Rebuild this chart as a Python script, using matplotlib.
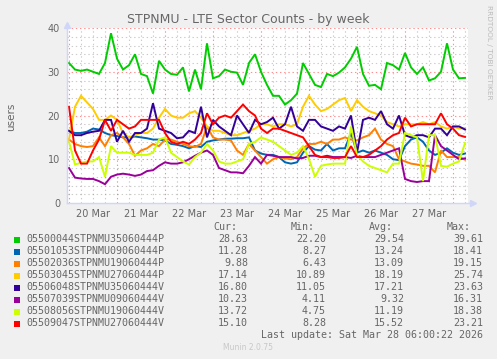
import matplotlib
matplotlib.use("Agg")
import matplotlib.pyplot as plt
from matplotlib.patches import Rectangle

plt.rcParams['lines.scale_dashes'] = False

W, H = 497, 359

# ---------------- data ----------------
hours = list(range(0, 199, 3))  # hours since 20 Mar 00:00, 3-hour steps
day_ticks = [12, 36, 60, 84, 108, 132, 156, 180]
day_labels = ["20 Mar", "21 Mar", "22 Mar", "23 Mar", "24 Mar", "25 Mar", "26 Mar", "27 Mar"]

names = ["05500044STPNMU35060444P", "05501053STPNMU09060444P", "05502036STPNMU19060444P",
         "05503045STPNMU27060444P", "05506048STPNMU35060444V", "05507039STPNMU09060444V",
         "05508056STPNMU19060444V", "05509047STPNMU27060444V"]
colors = ["#00CC00", "#0066B3", "#FF8000", "#FFCC00", "#330099", "#990099", "#CCFF00", "#FF0000"]
cur = ["28.63", "11.28", "9.88", "17.14", "16.80", "10.23", "13.72", "15.10"]
mins = ["22.20", "8.27", "6.43", "10.89", "11.05", "4.11", "4.75", "8.28"]
avgs = ["29.54", "13.24", "13.09", "18.19", "17.21", "9.32", "11.19", "15.52"]
maxs = ["39.61", "18.41", "19.15", "25.74", "23.63", "16.31", "18.38", "23.21"]

s_green = [32, 30.5, 30.2, 30.5, 30.0, 29.5, 32.0, 38.8, 33, 30.5,
           31.5, 34.0, 29.5, 29, 25, 32.5, 30.5, 29.5, 29.3, 31,
           25.5, 30.5, 26, 36.5, 28.5, 29, 30.5, 30, 29.8, 27,
           32, 34, 30, 27, 24.5, 24.5, 22.5, 23.5, 25, 32,
           29.5, 27, 26.5, 29.5, 29, 29.8, 31, 33, 35.7, 29.5,
           26.8, 27, 26, 32, 31.5, 30.5, 34.3, 31, 29.5, 31,
           28, 28.5, 30, 36.5, 30.5, 28.5, 28.6]
s_blue = [16.5, 16, 16, 16.3, 17, 16.8, 16, 15.5, 15.3, 15,
          15, 15.2, 15, 14.8, 14.5, 14.5, 14.3, 13.5, 13.3, 13,
          12.5, 13, 12.8, 14, 14.3, 14.5, 14.7, 14.7, 14.8, 14.8,
          15, 12, 11.3, 11, 11, 10.5, 9.3, 9, 9.3, 11.5,
          13, 12.2, 12, 13.5, 12, 12.5, 12.5, 16, 11.5, 12,
          11.5, 12, 11.5, 11, 10, 9.8, 13, 14.5, 15, 14,
          12, 11, 11.5, 12.5, 11.5, 11, 11.3]
s_orange = [14.5, 13.5, 13, 12.8, 13, 15, 13, 15.5, 16, 15,
            13.5, 10.8, 12, 12.5, 13.5, 13, 14.5, 14.5, 14, 13.5,
            13, 12.8, 13.5, 17.5, 15, 14.5, 14.5, 14.3, 12, 11,
            13.5, 12, 10.5, 9, 10, 10.5, 10.2, 10, 10.5, 12.5,
            13.5, 13.5, 14, 13.5, 14.5, 14.5, 15, 14.5, 14.3, 15,
            15.5, 17, 14.5, 13.5, 13, 10, 9.5, 9, 8.8, 8.5,
            8.5, 7, 12, 10.5, 10.5, 10.5, 9.9]
s_yellow = [14.5, 22, 24.5, 23, 21.5, 19, 19, 20, 19, 16,
            15, 15.5, 16, 16, 17, 19.5, 21.5, 20, 19.5, 19.5,
            20.5, 21, 19.5, 17.5, 16.5, 16.5, 16, 15.5, 15.5, 16,
            16.5, 17, 18, 18, 17.5, 18, 18, 17.5, 18, 22,
            24.5, 22.5, 21, 21.5, 22.5, 23.5, 24, 21, 23.5, 22,
            21, 20.5, 20, 18.5, 18, 17.5, 18, 18, 18, 18.5,
            18, 18.5, 17.5, 17, 17.5, 17, 17.1]
s_indigo = [16.5, 15.5, 15.5, 16, 16.3, 16.5, 19, 19, 14, 16.5,
            14, 16, 16, 17, 22.8, 17, 16.5, 16, 14.8, 15,
            16.5, 16, 22, 15, 19, 17.5, 16.5, 15.5, 20, 18,
            16, 19, 18, 18.5, 19.5, 17, 18, 22, 17.5, 16.5,
            19, 19, 17.5, 17, 16.5, 17.5, 17, 20, 11.5, 19,
            19.5, 19, 21, 18, 17, 20, 15.5, 15, 15.5, 15.5,
            15, 17, 17, 15.5, 17.5, 17.5, 16.8]
s_magenta = [8, 5.8, 5.6, 5.5, 5.5, 5, 4.3, 6, 6.5, 6.7,
             6.5, 6.2, 6.5, 7.3, 7.5, 8.5, 9.3, 9, 9, 9.3,
             10, 10.8, 11.5, 12, 11, 8, 7.5, 7, 7, 6.8,
             8.5, 10.5, 9, 11, 10.8, 10.5, 10.5, 10.5, 10.2, 10.3,
             10.8, 10.8, 10.5, 10.8, 10.5, 10.5, 10.5, 10.3, 10.8, 10.5,
             10.5, 10.5, 11, 11.5, 12, 12.5, 5.5, 5, 4.8, 5,
             5, 15.5, 13, 12, 11, 10, 10.2]
s_lime = [14, 8.8, 9.2, 9.5, 9.5, 10.5, 6, 13, 11.5, 11.5,
          11.5, 11, 11, 11, 11.5, 14.5, 15, 11.5, 10.5, 9.5,
          8.8, 10.5, 11.5, 13.5, 12, 9.5, 9, 9, 9.5, 10,
          13.5, 14, 15, 14.5, 14, 13, 12, 11, 11.5, 13,
          10, 6, 8.5, 8.8, 9, 9, 9, 17.5, 11, 9.5,
          8.5, 8, 7.5, 7, 9, 9, 16, 15.5, 15, 5,
          15.5, 15.5, 8.5, 8.3, 9, 9.5, 13.7]
s_red = [22, 12, 9, 9, 12, 14.5, 19, 16.5, 19, 18,
         17, 17.5, 19, 19, 19, 19, 16, 14, 13.5, 14,
         13.5, 14.5, 16, 20.5, 18, 19.5, 20, 19.5, 21, 22.5,
         21, 20, 17, 16, 17, 17, 16.5, 16, 15.5, 15,
         13, 11, 10.5, 10.5, 10.3, 10.3, 10.5, 13, 10.5, 10.5,
         11, 12, 13, 14.5, 15.5, 16, 19.5, 17.5, 18, 18,
         18, 18, 20.5, 18, 17, 15.5, 15.1]
series = [s_green, s_blue, s_orange, s_yellow, s_indigo, s_magenta, s_lime, s_red]

# ---------------- figure ----------------
FONT = "#666666"
AXISC = "#CFD6F8"
fig = plt.figure(figsize=(W / 100, H / 100), dpi=100, facecolor="#F0F0F0")


def fx(x):
    return x / W


def fy(y):
    return 1 - y / H


L, R, T, B = 67, 468, 28, 203
ax = fig.add_axes([fx(L), fy(B), (R - L) / W, (B - T) / H])
ax.set_facecolor("white")
ax.set_xlim(-1, 199.5)
ax.set_ylim(0, 40)
for s in ax.spines.values():
    s.set_visible(False)

minor_c = (0.55, 0.55, 0.55, 0.45)
major_c = (1.0, 0.2, 0.2, 0.55)
dots = (0, (1, 2))
for v in range(2, 40, 2):
    if v % 10:
        ax.axhline(v, color=minor_c, lw=0.8, ls=dots, zorder=1)
for h in range(-0, 200, 6):
    if h % 24:
        ax.axvline(h, color=minor_c, lw=0.8, ls=dots, zorder=1)
for v in range(10, 41, 10):
    ax.axhline(v, color=major_c, lw=0.8, ls=dots, zorder=1.5)
for h in range(0, 200, 24):
    ax.axvline(h, color=major_c, lw=0.8, ls=dots, zorder=1.5)

for vals, c in zip(series, colors):
    ax.plot(hours, vals, color=c, lw=1.4, solid_joinstyle="miter", zorder=3)

# axis lines with arrows
ax.plot([0, 1.012], [0, 0], transform=ax.transAxes, color=AXISC, lw=1, clip_on=False, zorder=4)
ax.plot([0, 0], [0, 1.0], transform=ax.transAxes, color=AXISC, lw=1, clip_on=False, zorder=4)
ax.plot([1.012], [0], transform=ax.transAxes, marker=">", ms=4.5, color=AXISC, clip_on=False, zorder=4)
ax.plot([0], [1.02], transform=ax.transAxes, marker="^", ms=4.5, color=AXISC, clip_on=False, zorder=4)

ax.set_xticks(day_ticks)
ax.set_xticklabels(day_labels)
ax.set_yticks([0, 10, 20, 30, 40])
ax.tick_params(axis="both", length=0, labelsize=7, labelcolor=FONT)
ax.tick_params(axis="x", pad=4.5)
ax.tick_params(axis="y", pad=5)

fig.text(0.5, fy(19), "STPNMU - LTE Sector Counts - by week", ha="center", va="center",
         fontsize=9, color=FONT)
fig.text(fx(11), fy(117), "users", rotation=90, ha="center", va="center", fontsize=7.5, color=FONT)
fig.text(fx(489), fy(5), "RRDTOOL / TOBI OETIKER", rotation=270, ha="center", va="top",
         fontsize=5.3, color="#BBBBBB")

mono = "DejaVu Sans Mono"
MS = 7.2
hy = 227.5
for lab, x in zip(["Cur:", "Min:", "Avg:", "Max:"], [213, 291, 369, 447]):
    fig.text(fx(x), fy(hy), lab, ha="left", va="center", family=mono, fontsize=MS, color=FONT)
for i in range(len(names)):
    y = 239.5 + 12 * i
    fig.patches.append(Rectangle((fx(14), fy(y + 3)), 6 / W, 6 / H, transform=fig.transFigure,
                                 facecolor=colors[i], edgecolor="none"))
    fig.text(fx(26), fy(y), names[i], ha="left", va="center", family=mono, fontsize=MS, color=FONT)
    for val, x in zip([cur[i], mins[i], avgs[i], maxs[i]], [248, 326, 404, 483]):
        fig.text(fx(x), fy(y), val, ha="right", va="center", family=mono, fontsize=MS, color=FONT)

fig.text(fx(483), fy(335.5), "Last update: Sat Mar 28 06:00:22 2026", ha="right", va="center",
         family=mono, fontsize=MS, color=FONT)
fig.text(fx(248), fy(348), "Munin 2.0.75", ha="center", va="center", fontsize=5.5, color="#C8C8C8")

fig.savefig("out.png", dpi=100, facecolor=fig.get_facecolor())
